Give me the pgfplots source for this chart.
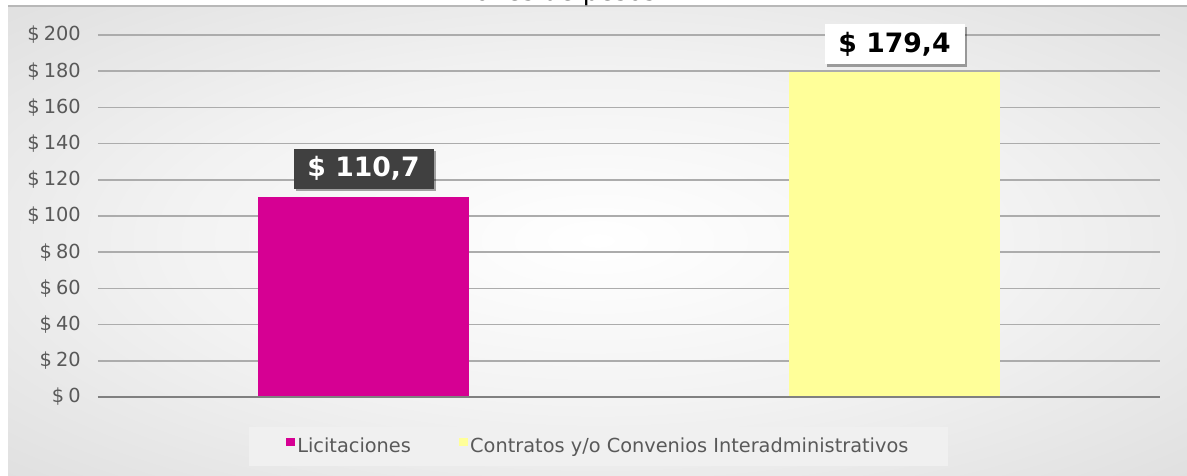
\documentclass[border=0pt]{standalone}
\usepackage{fontspec}
\setmainfont{DejaVu Sans}
\usepackage{pgfplots}
\pgfplotsset{compat=1.18}
\usetikzlibrary{shadows}

\definecolor{pinkbar}{RGB}{214,0,147}
\definecolor{yellowbar}{RGB}{255,255,153}
\definecolor{ticktext}{RGB}{89,89,89}
\definecolor{gridc}{RGB}{172,172,172}
\definecolor{basec}{RGB}{128,128,128}
\definecolor{labeldark}{RGB}{64,64,64}
\definecolor{legendbg}{RGB}{240,240,240}

\pgfdeclareradialshading{chartbg}{\pgfpoint{0bp}{0bp}}{%
  color(0bp)=(white); color(18bp)=(white!95!black);
  color(50bp)=(black!18); color(72bp)=(black!24)}

\begin{document}
\begin{tikzpicture}
\useasboundingbox (0,0) rectangle (890.25pt,356.25pt);
\fill[white] (0,0) rectangle (890.25pt,356.25pt);
\shade[shading=chartbg] (6pt,0) rectangle (890.25pt,351.75pt);
\draw[black!28, line width=1.2pt] (6pt,351.75pt) -- (890.25pt,351.75pt);
% title, mostly cut off at the top as in the reference
\node[anchor=base, font=\fontsize{19}{22}\selectfont, inner sep=0pt] at (408pt,355.6pt) {Millones de pesos};

\begin{axis}[
    at={(73.5pt,58.5pt)}, anchor=south west,
    scale only axis, width=796.5pt, height=271.5pt,
    xmin=-0.5, xmax=1.5, ymin=0, ymax=200,
    ytick={0,20,...,200}, xtick=\empty,
    ymajorgrids, grid style={gridc, line width=1.2pt},
    axis line style={draw=none}, major tick length=0pt,
    /pgf/number format/assume math mode=true,
    yticklabel={\$\hspace{0.22em}\pgfmathprintnumber{\tick}},
    yticklabel style={font=\fontsize{14.5}{17}\selectfont, text=ticktext, inner sep=0pt, xshift=-12.75pt},
    ybar, bar width=158.25pt, bar shift=0pt,
    clip=false,
    legend columns=2,
    legend style={at={(0.4713,-0.1367)}, anchor=center, fill=legendbg, draw=none,
        font=\fontsize{14.5}{17}\selectfont, text=ticktext, inner xsep=28pt, inner ysep=6pt,
        /tikz/every even column/.append style={column sep=34pt}},
    legend image code/.code={\fill[#1] (0pt,0pt) rectangle (6.5pt,6.5pt);},
    nodes near coords={\$ \pgfmathprintnumber[fixed,fixed zerofill,precision=1,use comma]{\pgfplotspointmeta}},
    every node near coord/.append style={anchor=south, yshift=5.7pt,
        font=\bfseries\fontsize{20}{24}\selectfont, minimum width=105pt, minimum height=30pt, inner sep=0pt,
        drop shadow={shadow xshift=2pt, shadow yshift=-2pt, opacity=0.35, fill=black}},
]
\addplot[fill=pinkbar, draw=none,
    every node near coord/.append style={fill=labeldark, text=white}]
    coordinates {(0,110.7)};
\addplot[fill=yellowbar, draw=none,
    every node near coord/.append style={fill=white, text=black}]
    coordinates {(1,179.4)};
\legend{Licitaciones, Contratos y/o Convenios Interadministrativos}
\draw[basec, line width=1.2pt] (axis cs:-0.5,0) -- (axis cs:1.5,0);
\end{axis}
\end{tikzpicture}
\end{document}
